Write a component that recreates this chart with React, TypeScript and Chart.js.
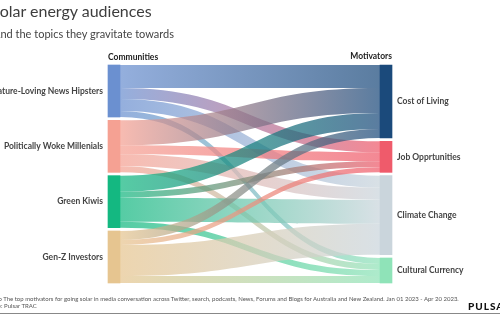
import React, { useEffect, useRef } from "react";
import { Chart, registerables } from "chart.js";

Chart.register(...registerables);

// ---- data ----
const COMMUNITIES = [
  "Nature-Loving News Hipsters",
  "Politically Woke Millenials",
  "Green Kiwis",
  "Gen-Z Investors",
];
const MOTIVATORS = ["Cost of Living", "Job Opprtunities", "Climate Change", "Cultural Currency"];

// flow sizes from each community to [Cost of Living, Job Opprtunities, Climate Change, Cultural Currency]
const HIPSTERS_FLOWS = [23, 11, 12, 6];
const WOKE_FLOWS = [25, 9, 12, 6];
const KIWIS_FLOWS = [16, 6, 24, 6];
const GENZ_FLOWS = [9, 5, 31, 7];

const COMMUNITY_COLORS = ["#6b90d0", "#f5a193", "#14b881", "#e6c590"];
const MOTIVATOR_COLORS = ["#1b4a7b", "#ef5b6b", "#cad5dc", "#8fe3b8"];

// ---- style ----
const NODE_WIDTH = 12;
const NODE_GAP = 3.3;
const FLOW_ALPHA = 0.72;
const FONT = "Lato, 'Noto Sans', sans-serif";

function rgba(hex: string, a: number) {
  const n = parseInt(hex.slice(1), 16);
  return `rgba(${(n >> 16) & 255},${(n >> 8) & 255},${n & 255},${a})`;
}
const sum = (a: number[]) => a.reduce((s, v) => s + v, 0);

export default function App() {
  const ref = useRef<HTMLCanvasElement>(null);

  useEffect(() => {
    const flows = [HIPSTERS_FLOWS, WOKE_FLOWS, KIWIS_FLOWS, GENZ_FLOWS];
    const leftTotals = flows.map((r) => sum(r));
    const rightTotals = MOTIVATORS.map((_, j) => sum(flows.map((r) => r[j])));
    const yMax =
      Math.max(sum(leftTotals), sum(rightTotals)) +
      NODE_GAP * (Math.max(COMMUNITIES.length, MOTIVATORS.length) - 1);
    const leftGap = (yMax - sum(leftTotals)) / (COMMUNITIES.length - 1);
    const rightGap = (yMax - sum(rightTotals)) / (MOTIVATORS.length - 1);

    const leftStarts: number[] = [];
    let acc = 0;
    leftTotals.forEach((t) => {
      leftStarts.push(acc);
      acc += t + leftGap;
    });
    const rightStarts: number[] = [];
    acc = 0;
    rightTotals.forEach((t) => {
      rightStarts.push(acc);
      acc += t + rightGap;
    });

    const leftNodes = leftStarts.map((s, i) => ({ x: 0, y: [s, s + leftTotals[i]] }));
    const rightNodes = rightStarts.map((s, j) => ({ x: 1, y: [s, s + rightTotals[j]] }));
    const leftCenters = leftStarts.map((s, i) => s + leftTotals[i] / 2);
    const rightCenters = rightStarts.map((s, j) => s + rightTotals[j] / 2);

    const flowPlugin = {
      id: "sankeyFlows",
      beforeDatasetsDraw(chart: any) {
        const { ctx } = chart;
        const xs = chart.scales.x;
        const ys = chart.scales.y;
        const xl = xs.getPixelForValue(0) + NODE_WIDTH / 2;
        const xr = xs.getPixelForValue(1) - NODE_WIDTH / 2;
        const xm = (xl + xr) / 2;
        const srcOff = leftStarts.slice();
        const tgtOff = rightStarts.slice();
        ctx.save();
        flows.forEach((row, i) => {
          row.forEach((v, j) => {
            const s0 = ys.getPixelForValue(srcOff[i]);
            const s1 = ys.getPixelForValue(srcOff[i] + v);
            const t0 = ys.getPixelForValue(tgtOff[j]);
            const t1 = ys.getPixelForValue(tgtOff[j] + v);
            srcOff[i] += v;
            tgtOff[j] += v;
            const g = ctx.createLinearGradient(xl, 0, xr, 0);
            g.addColorStop(0, rgba(COMMUNITY_COLORS[i], FLOW_ALPHA));
            g.addColorStop(1, rgba(MOTIVATOR_COLORS[j], FLOW_ALPHA));
            ctx.fillStyle = g;
            ctx.beginPath();
            ctx.moveTo(xl, s0);
            ctx.bezierCurveTo(xm, s0, xm, t0, xr, t0);
            ctx.lineTo(xr, t1);
            ctx.bezierCurveTo(xm, t1, xm, s1, xl, s1);
            ctx.closePath();
            ctx.fill();
          });
        });
        ctx.restore();
      },
    };

    const tickFont = { family: FONT, size: 8.5, weight: "bold" as const };

    const chart = new Chart(ref.current as HTMLCanvasElement, {
      type: "bar",
      data: {
        datasets: [
          {
            data: leftNodes as any,
            backgroundColor: COMMUNITY_COLORS,
            borderWidth: 0,
            barThickness: NODE_WIDTH,
            grouped: false,
            clip: false as any,
            xAxisID: "x",
            yAxisID: "y",
          } as any,
          {
            data: rightNodes as any,
            backgroundColor: MOTIVATOR_COLORS,
            borderWidth: 0,
            barThickness: NODE_WIDTH,
            grouped: false,
            clip: false as any,
            xAxisID: "x",
            yAxisID: "y",
          } as any,
        ],
      },
      options: {
        animation: false,
        responsive: false,
        devicePixelRatio: 1,
        layout: { padding: { top: 65, bottom: 47, left: 0, right: 0 } },
        plugins: { legend: { display: false }, tooltip: { enabled: false } },
        scales: {
          x: { type: "linear", min: 0, max: 1, offset: false, display: false, grid: { offset: false } },
          y: {
            type: "linear",
            position: "left",
            reverse: true,
            min: 0,
            max: yMax,
            grid: { display: false, drawTicks: false },
            border: { display: false },
            afterBuildTicks: (s: any) => {
              s.ticks = leftCenters.map((v) => ({ value: v }));
            },
            afterFit: (s: any) => {
              s.width = 114;
            },
            ticks: {
              padding: 11,
              autoSkip: false,
              color: "#444",
              font: tickFont,
              callback: (_v: any, i: number) => COMMUNITIES[i],
            },
          },
          y2: {
            type: "linear",
            display: true,
            position: "right",
            reverse: true,
            min: 0,
            max: yMax,
            grid: { display: false, drawTicks: false },
            border: { display: false },
            afterBuildTicks: (s: any) => {
              s.ticks = rightCenters.map((v) => ({ value: v }));
            },
            afterFit: (s: any) => {
              s.width = 114;
            },
            ticks: {
              padding: 11,
              autoSkip: false,
              color: "#444",
              font: tickFont,
              callback: (_v: any, i: number) => MOTIVATORS[i],
            },
          },
        },
      } as any,
      plugins: [flowPlugin],
    });
    return () => chart.destroy();
  }, []);

  const abs = (s: React.CSSProperties): React.CSSProperties => ({
    position: "absolute",
    whiteSpace: "nowrap",
    lineHeight: 1,
    fontFamily: FONT,
    ...s,
  });

  return (
    <div
      style={{
        position: "absolute",
        left: 0,
        top: 0,
        width: 500,
        height: 330,
        overflow: "hidden",
        background: "#fff",
      }}
    >
      <canvas ref={ref} width={500} height={330} style={{ position: "absolute", left: 0, top: 0 }} />
      <div style={abs({ left: -9, top: 3, fontSize: 16, color: "#3d3d3d" })}>Solar energy audiences</div>
      <div style={abs({ left: -7, top: 27.5, fontSize: 11, color: "#444" })}>
        And the topics they gravitate towards
      </div>
      <div style={abs({ left: 108, top: 52.5, fontSize: 8.5, fontWeight: 700, color: "#222" })}>Communities</div>
      <div style={abs({ right: 108, top: 51.5, fontSize: 8.5, fontWeight: 700, color: "#222" })}>Motivators</div>
      <div style={abs({ left: -10, top: 295.7, fontSize: 6, color: "#555" })}>
        Map The top motivators for going solar in media conversation across Twitter, search, podcasts, News,
        Forums and Blogs for Australia and New Zealand. Jan 01 2023 - Apr 20 2023.
      </div>
      <div style={abs({ left: -17, top: 302.7, fontSize: 6, color: "#555" })}>Source: Pulsar TRAC</div>
      <div style={abs({ left: 468, top: 300.5, fontSize: 10, fontWeight: 900, letterSpacing: 1, color: "#111" })}>
        PULSAR
      </div>
      <div style={{ position: "absolute", left: 0, top: 313, width: 500, height: 1, background: "#888" }} />
    </div>
  );
}
